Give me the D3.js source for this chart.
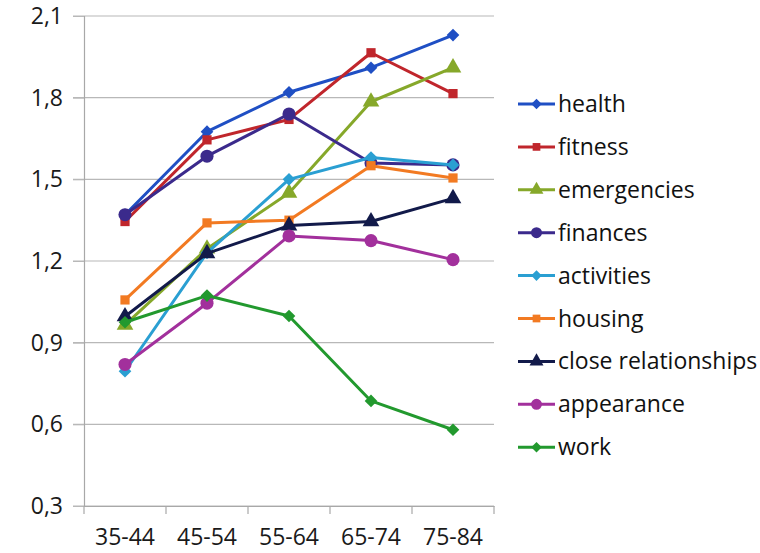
<!DOCTYPE html>
<html><head><meta charset="utf-8">
<script src="https://cdn.jsdelivr.net/npm/d3@7"></script>
<style>body{margin:0;background:#fff}svg{display:block}</style>
</head><body>
<script>
const categories = ["35-44","45-54","55-64","65-74","75-84"];
const yTicks = [0.3,0.6,0.9,1.2,1.5,1.8,2.1];
const seriesNames = ["health","fitness","emergencies","finances","activities","housing","close relationships","appearance","work"];
const health = [1.37,1.675,1.82,1.91,2.03];
const fitness = [1.345,1.645,1.72,1.965,1.815];
const emergencies = [0.965,1.245,1.45,1.785,1.91];
const finances = [1.37,1.585,1.74,1.56,1.553];
const activities = [0.795,1.23,1.50,1.58,1.553];
const housing = [1.057,1.34,1.35,1.55,1.505];
const closeRelationships = [0.996,1.228,1.33,1.345,1.43];
const appearance = [0.82,1.045,1.292,1.275,1.205];
const work = [0.975,1.073,0.998,0.686,0.58];
const seriesValues = [health,fitness,emergencies,finances,activities,housing,closeRelationships,appearance,work];
const colors = ["#1f4fc4","#c0262c","#86a82a","#3b2a8c","#2a9fd2","#f27a22","#121a4a","#a2309c","#22992e"];
const markers = ["diamond","square","triangle","circle","diamond","square","triangle","circle","diamond"];

const W=760,H=553;
const svg=d3.select("body").append("svg").attr("width",W).attr("height",H);
const font="'Open Sans', Calibri, sans-serif";
const x0=84,x1=494,yTop=16,yBot=506;
const x=d3.scaleBand().domain(categories).range([x0,x1]);
const y=d3.scaleLinear().domain([0.3,2.1]).range([yBot,yTop]);

svg.append("g").selectAll("line").data(yTicks).join("line")
  .attr("x1",x0-11).attr("x2",x1).attr("y1",d=>y(d)).attr("y2",d=>y(d))
  .attr("stroke","#b8b8b8").attr("stroke-width",1.2);
const yAxis=svg.append("g").attr("transform",`translate(${x0},0)`)
  .call(d3.axisLeft(y).tickValues(yTicks).tickSize(11).tickPadding(10).tickFormat(d=>d3.format(".1f")(d).replace(".",",")));
yAxis.select(".domain").attr("stroke","#a8a8a8").attr("stroke-width",1.2);
yAxis.selectAll(".tick line").attr("stroke","#b8b8b8");
yAxis.selectAll("text").attr("font-family",font).attr("font-size",23).attr("fill","#1a1a1a");
const xAxis=svg.append("g").attr("transform",`translate(0,${yBot})`)
  .call(d3.axisBottom(x).tickSize(0).tickPadding(23));
xAxis.select(".domain").attr("stroke","#a8a8a8").attr("stroke-width",1.2);
xAxis.selectAll("text").attr("font-family",font).attr("font-size",23).attr("fill","#1a1a1a");
const bounds=categories.map(c=>x(c)).concat([x1]);
xAxis.append("g").selectAll("line").data(bounds).join("line")
  .attr("x1",d=>d).attr("x2",d=>d).attr("y1",0).attr("y2",8).attr("stroke","#a8a8a8").attr("stroke-width",1.2);

const cx=c=>x(c)+x.bandwidth()/2;
const symType={diamond:d3.symbolSquare,square:d3.symbolSquare,triangle:d3.symbolTriangle,circle:d3.symbolCircle};
const symSize={diamond:80,square:85,triangle:120,circle:135};
const symRot={diamond:45,square:0,triangle:0,circle:0};
const line=d3.line().x((d,i)=>cx(categories[i])).y(d=>y(d));

seriesValues.forEach((vals,si)=>{
  const g=svg.append("g");
  const m=markers[si];
  g.append("path").datum(vals).attr("d",line).attr("fill","none")
    .attr("stroke",colors[si]).attr("stroke-width",3).attr("stroke-linejoin","round");
  g.selectAll("path.m").data(vals).join("path").attr("class","m")
    .attr("transform",(d,i)=>`translate(${cx(categories[i])},${y(d)}) rotate(${symRot[m]})`)
    .attr("d",d3.symbol().type(symType[m]).size(symSize[m]))
    .attr("fill",colors[si]);
});

const lg=svg.append("g").attr("transform","translate(518,104)");
seriesNames.forEach((n,i)=>{
  const m=markers[i];
  const r=lg.append("g").attr("transform",`translate(0,${i*42.9})`);
  r.append("line").attr("x1",0).attr("x2",37).attr("y1",0).attr("y2",0).attr("stroke",colors[i]).attr("stroke-width",3);
  r.append("path").attr("transform",`translate(18.5,0) rotate(${symRot[m]})`)
    .attr("d",d3.symbol().type(symType[m]).size(symSize[m]*0.7)).attr("fill",colors[i]);
  r.append("text").attr("x",40).attr("y",0).attr("dy","0.35em").text(n)
    .attr("font-family",font).attr("font-size",23).attr("fill","#111");
});
</script>
</body></html>
